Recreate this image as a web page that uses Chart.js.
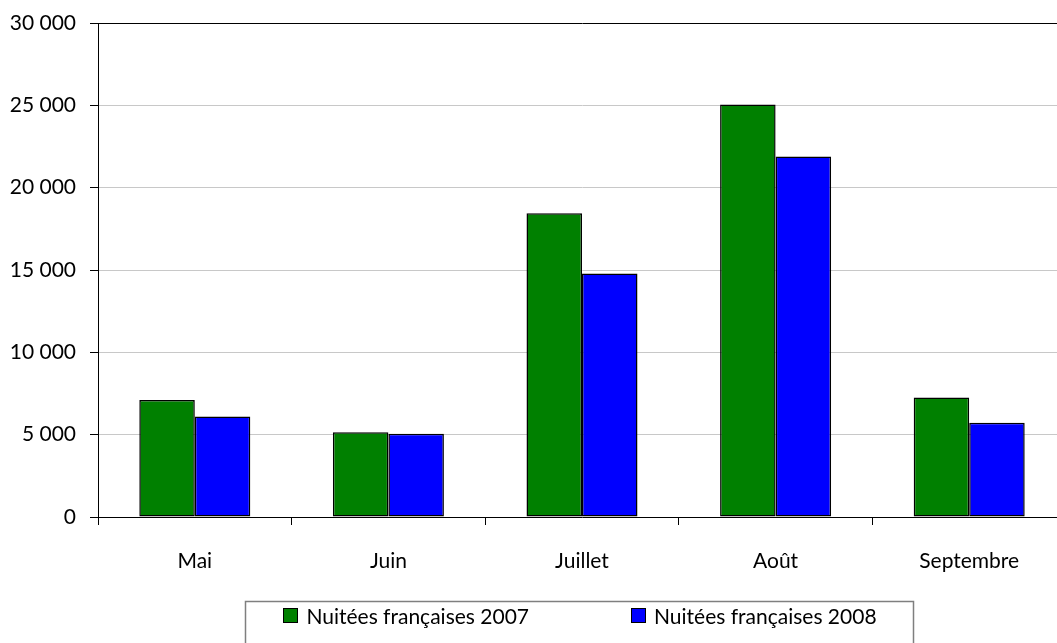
<!DOCTYPE html>
<html>
<head>
<meta charset="utf-8">
<script src="https://cdn.jsdelivr.net/npm/chart.js@4/dist/chart.umd.min.js"></script>
<style>
  html, body { margin: 0; padding: 0; background: #fff; overflow: hidden; }
  #wrap { position: relative; width: 1057px; height: 643px; overflow: hidden; }
  #box { position: absolute; left: 0; top: 0; width: 1070px; height: 643px; }
</style>
</head>
<body>
<div id="wrap"><div id="box"><canvas id="c"></canvas></div></div>
<script>
const categories = ['Mai', 'Juin', 'Juillet', 'Août', 'Septembre'];
const seriesNames = ['Nuitées françaises 2007', 'Nuitées françaises 2008'];
const values2007 = [7100, 5150, 18450, 25050, 7250];
const values2008 = [6100, 5060, 14780, 21900, 5730];
const yTickValues = [0, 5000, 10000, 15000, 20000, 25000, 30000];
const yTickLabels = ['0', '5 000', '10 000', '15 000', '20 000', '25 000', '30 000'];
const seriesColors = ['#008000', '#0000FF'];

const FONT = 'Lato';
const FS = 21;

const legendPlugin = {
  id: 'boxLegend',
  afterDraw(chart) {
    const ctx = chart.ctx;
    const ca = chart.chartArea;
    ctx.save();
    ctx.font = FS + 'px ' + FONT;
    const marker = 15, gapText = 8, spacing = 102;
    const items = chart.data.datasets.map(d => ({ text: d.label, color: d.backgroundColor, w: ctx.measureText(d.label).width }));
    let total = 0;
    items.forEach((it, i) => { total += marker + gapText + it.w + (i ? spacing : 0); });
    const cx = (ca.left + ca.right) / 2 - 2;
    let x = cx - total / 2;
    const cy = 616;
    ctx.strokeStyle = '#7f7f7f';
    ctx.lineWidth = 1.5;
    ctx.strokeRect(Math.round(x - 38) + 0.5, 601.5, Math.round(total + 75), 80);
    ctx.textBaseline = 'middle';
    ctx.textAlign = 'left';
    items.forEach((it, i) => {
      ctx.fillStyle = it.color;
      ctx.fillRect(Math.round(x), cy - 8, marker, marker);
      ctx.strokeStyle = '#000';
      ctx.lineWidth = 1;
      ctx.strokeRect(Math.round(x) + 0.5, cy - 7.5, marker - 1, marker - 1);
      ctx.fillStyle = '#000';
      ctx.fillText(it.text, x + marker + gapText, cy + 1);
      x += marker + gapText + it.w + spacing;
    });
    ctx.restore();
  }
};

new Chart(document.getElementById('c'), {
  type: 'bar',
  data: {
    labels: categories,
    datasets: [
      { label: seriesNames[0], data: values2007, backgroundColor: seriesColors[0], borderColor: '#000', borderWidth: 1.5, borderSkipped: false },
      { label: seriesNames[1], data: values2008, backgroundColor: seriesColors[1], borderColor: '#000', borderWidth: 1.5, borderSkipped: false }
    ]
  },
  options: {
    responsive: true,
    maintainAspectRatio: false,
    animation: false,
    devicePixelRatio: 1,
    layout: { padding: { top: 23, right: 4, left: 0, bottom: 0 } },
    datasets: { bar: { categoryPercentage: 0.5734, barPercentage: 1.0 } },
    plugins: { legend: { display: false }, tooltip: { enabled: false } },
    scales: {
      x: {
        grid: { offset: true, drawOnChartArea: false, drawTicks: true, tickLength: 8, tickColor: '#000', lineWidth: 1 },
        border: { display: true, color: '#000', width: 1 },
        ticks: { color: '#000', font: { family: FONT, size: FS }, padding: 24, maxRotation: 0 },
        afterFit(scale) { scale.height = 126; }
      },
      y: {
        min: 0, max: 30000,
        afterBuildTicks(scale) { scale.ticks = yTickValues.map(v => ({ value: v })); },
        grid: {
          color: ctx => (ctx.tick && ctx.tick.value === 30000) ? '#000' : '#c8c8c8',
          lineWidth: 1, drawTicks: true, tickLength: 8, tickColor: '#000'
        },
        border: { display: true, color: '#000', width: 1 },
        ticks: {
          color: '#000', font: { family: FONT, size: FS }, padding: 14,
          callback: (v) => { const i = yTickValues.indexOf(v); return i >= 0 ? yTickLabels[i] : ''; }
        },
        afterFit(scale) { scale.width = 98; scale.paddingTop = 0; scale.paddingBottom = 0; }
      }
    }
  },
  plugins: [legendPlugin]
});
</script>
</body>
</html>
